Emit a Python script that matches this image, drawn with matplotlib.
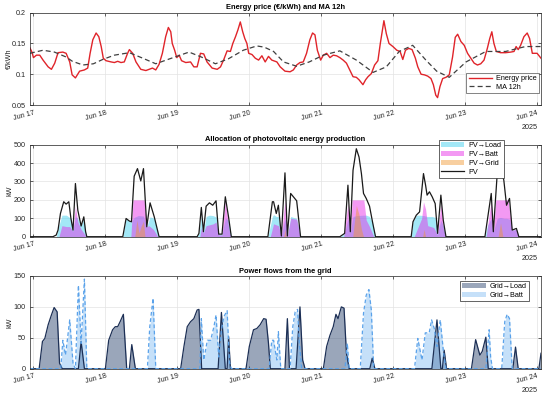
import numpy as np
import matplotlib
matplotlib.use("Agg")
import matplotlib.pyplot as plt
import matplotlib.dates as mdates
from matplotlib.patches import Patch
from matplotlib.lines import Line2D

plt.rcParams['font.family'] = ['Liberation Sans', 'DejaVu Sans']

BASE = np.datetime64('2025-06-17T00:00')
X_START_H, X_END_H = -1.15, 169.3

# ---------------- data (hours from Jun 17 00:00, value) ----------------
price_pts = [(-1.2,0.143),(-0.5,0.136),(0,0.127),(1,0.131),(2.1,0.131),(3.2,0.123),(4.9,0.112),(6,0.108),
    (7.1,0.118),(8.2,0.135),(9.8,0.136),(10.9,0.134),(12.1,0.120),(12.9,0.099),(14,0.094),(15.4,0.105),
    (17,0.107),(18.1,0.110),(18.9,0.134),(19.8,0.156),(20.9,0.167),(21.8,0.161),(22.6,0.145),(23.3,0.126),
    (24.2,0.122),(25.9,0.120),(27,0.119),(28.1,0.121),(29.2,0.119),(30.3,0.120),(31.4,0.134),(32,0.140),
    (33.1,0.134),(34.2,0.120),(35.8,0.108),(37.5,0.106),(38.6,0.108),(39.7,0.110),(40.8,0.107),(41.9,0.116),
    (43,0.134),(44.1,0.161),(45,0.176),(45.8,0.169),(46.3,0.150),(47.1,0.139),(47.8,0.127),(48.6,0.131),
    (49.4,0.122),(50.8,0.119),(52.4,0.120),(53.5,0.112),(54.6,0.112),(55.7,0.134),(56.8,0.133),(57.9,0.120),
    (59.6,0.110),(61.3,0.108),(62.4,0.112),(63.5,0.124),(64.6,0.138),(65.7,0.137),(66.5,0.150),(67.4,0.161),
    (68.2,0.172),(69,0.185),(69.8,0.169),(70.5,0.158),(71.2,0.150),(71.8,0.134),(72.9,0.132),(74,0.126),
    (75.1,0.123),(76.2,0.130),(77.3,0.120),(78.4,0.129),(79.5,0.123),(81.2,0.120),(82.3,0.112),(83.9,0.105),
    (85.6,0.104),(86.7,0.107),(87.8,0.115),(88.9,0.119),(90,0.120),(91.1,0.134),(92.2,0.156),(93.1,0.167),
    (93.9,0.164),(94.7,0.139),(95.8,0.123),(96.7,0.131),(97.8,0.134),(98.9,0.127),(100,0.131),(101.1,0.130),
    (102.2,0.127),(103.3,0.123),(104.4,0.118),(105.5,0.107),(106.6,0.096),(107.7,0.095),(108.6,0.091),
    (109.9,0.083),(110.8,0.091),(111.6,0.096),(112.7,0.101),(113.8,0.115),(114.9,0.122),(115.7,0.150),
    (116.4,0.172),(116.9,0.187),(117.7,0.166),(118.6,0.150),(119.9,0.145),(121.2,0.139),(122.3,0.137),
    (123.2,0.124),(124.1,0.139),(125.2,0.142),(126.3,0.140),(127.4,0.126),(128.2,0.112),(129.3,0.100),
    (130.4,0.099),(131.5,0.097),(132.6,0.093),(133.4,0.083),(134.2,0.066),(134.8,0.062),(135.6,0.080),
    (136.5,0.093),(137.6,0.095),(138.7,0.099),(139.8,0.128),(140.7,0.160),(141.5,0.165),(142.6,0.153),
    (143.7,0.147),(144.8,0.134),(145.9,0.126),(147,0.118),(148.1,0.115),(149.2,0.117),(150.3,0.123),
    (151.4,0.142),(152.2,0.158),(152.9,0.169),(153.6,0.150),(154.4,0.137),(155.8,0.135),(157.5,0.135),
    (159.2,0.136),(160.3,0.137),(161,0.145),(161.7,0.140),(162.5,0.147),(163.6,0.161),(164.7,0.167),
    (165.5,0.158),(166.4,0.134),(168,0.134),(169.3,0.126)]

ma_pts = [(-1.2,0.134),(3.2,0.139),(7,0.136),(10.9,0.128),(13,0.121),(16.5,0.115),(20,0.117),(23.1,0.124),
    (27,0.131),(32,0.135),(36,0.127),(40.8,0.117),(46,0.126),(51.9,0.136),(56,0.128),(60.7,0.117),(65,0.125),
    (70,0.139),(74.5,0.146),(77,0.144),(80.1,0.137),(83.4,0.120),(87.8,0.113),(92,0.120),(96.7,0.131),
    (102.2,0.138),(107.7,0.123),(113.3,0.103),(117.7,0.112),(122,0.137),(126.5,0.147),(130.9,0.123),
    (134.5,0.105),(138.7,0.095),(144.3,0.120),(150.9,0.137),(157.5,0.137),(164.1,0.145),(169.3,0.145)]

pv_pts = [(-1.2,0),(6.5,0),(7.6,9),(8.2,36),(9.0,126),(10.1,190),(10.9,177),(11.8,190),(12.5,99),(13.2,36),
    (14.0,289),(14.8,144),(15.9,58),(16.8,108),(17.4,27),(17.8,0),
    (29.8,0),(30.9,99),(32.0,85),(32.7,81),(33.6,329),(34.7,370),(35.8,303),(36.7,370),(37.8,54),(38.9,184),
    (40.3,108),(41.9,0),
    (54.6,0),(55.2,18),(56.0,159),(56.7,27),(57.6,166),(58.7,184),(59.8,171),(60.9,195),(61.8,14),(62.9,14),
    (64.0,217),(65.1,105),(66.0,0),
    (78.2,0),(79.7,190),(80.1,190),(81.0,126),(81.7,171),(82.7,4),(83.9,347),(84.7,4),(85.8,235),(86.7,217),
    (87.8,195),(89.1,0),
    (102.2,0),(103.8,18),(104.9,280),(105.7,27),(106.6,361),(107.7,478),(108.6,433),(109.4,343),(110.1,235),
    (111.0,208),(112.1,166),(113.2,72),(114.1,0),
    (126.0,0),(126.6,81),(127.7,117),(128.8,135),(130.1,343),(130.8,280),(131.3,226),(132.1,244),(133.0,217),
    (134.0,180),(134.8,18),(135.9,226),(136.7,90),(137.6,0),
    (150.6,0),(151.4,90),(152.7,235),(153.4,27),(154.7,343),(155.8,375),(156.9,307),(157.8,171),(158.8,208),
    (159.7,36),(161.1,45),(161.9,0),(169.3,0)]

pv_load_pts = [(7.6,0),(8.5,60),(9.5,117),(11,117),(12.5,99),(13.2,36),(14,110),(14.8,100),(15.9,58),(16.8,100),
    (17.4,27),(17.8,0),
    (29.8,0),(30.9,99),(32.0,85),(32.7,81),(33.6,105),(35,115),(36.7,112),(37.8,54),(38.9,108),(40.3,100),(41.9,0),
    (54.6,0),(55.2,18),(56.0,110),(56.7,27),(57.6,110),(58.7,117),(59.8,115),(60.9,108),(61.8,14),(62.9,14),
    (64.0,100),(65.1,90),(66.0,0),
    (78.2,0),(79.7,110),(80.1,120),(81.0,110),(81.7,110),(82.7,4),(83.9,100),(84.7,4),(85.8,110),(86.7,105),
    (87.8,100),(89.1,0),
    (102.2,0),(103.8,18),(104.9,100),(105.7,27),(106.6,110),(108,115),(110,117),(111,117),(112.1,110),
    (113.2,72),(114.1,0),
    (126,0),(126.6,81),(127.7,117),(128.8,117),(130.1,115),(131.3,110),(133,110),(134,105),(134.8,18),
    (135.9,90),(136.7,60),(137.6,0),
    (150.6,0),(151.4,60),(152.7,100),(153.4,27),(154.7,100),(155.8,105),(156.9,100),(157.8,100),(158.8,95),
    (159.7,36),(161.1,40),(161.9,0)]

pv_batt_pts = [(8.5,0),(9.5,60),(11,55),(12.1,55),(13.2,30),(14,165),(14.8,80),(15.9,40),(16.8,20),(17.6,0),
    (32.5,0),(33.2,200),(36.9,200),(37.8,54),(38.5,60),(40,40),(41.5,0),
    (55.5,0),(56.0,50),(56.7,20),(57.6,60),(60,70),(60.9,80),(61.8,10),(62.9,10),(64.0,200),(65.1,50),(65.8,0),
    (79,0),(80.1,70),(81.7,60),(82.7,4),(83.9,200),(84.7,4),(85.8,100),(87.8,95),(89,0),
    (103.5,0),(104.9,180),(105.7,20),(106.3,200),(110.2,200),(111,90),(112.1,55),(113.5,0),
    (127,0),(128,40),(129.5,100),(130.1,190),(130.8,150),(131.5,60),(133.5,50),(134.8,10),(135.9,180),
    (136.7,50),(137.4,0),
    (151,0),(152.7,200),(153.4,20),(154.2,200),(158.3,200),(159.7,36),(161.1,40),(161.9,0)]

pv_grid_pts = [(33.8,0),(34.5,90),(35.2,20),(36,60),(36.7,85),(37.2,0),
    (83.5,0),(83.9,40),(84.3,0),
    (106.5,0),(107.7,170),(108.6,120),(109.4,40),(110.1,0),
    (129.8,0),(130.3,40),(130.8,0),
    (155,0),(155.8,75),(156.6,0)]

grid_load_pts = [(-1.2,0),(1.9,0),(3.0,44),(3.8,49),(4.9,71),(6.0,87),(6.9,99),(7.9,92),(8.7,9),(9.6,0),
    (15.0,0),(15.9,44),(17.0,0),
    (24.0,0),(25.1,46),(26.4,63),(27.3,68),(28.1,68),(28.9,76),(30.0,88),(31.1,0),(32.0,0),(32.8,39),(34.0,0),
    (49.1,0),(50.2,36),(51.3,68),(52.4,76),(53.5,81),(54.6,95),(55.2,96),(56.1,0),(61.6,0),(62.7,91),(64.0,0),
    (64.6,0),(65.1,52),(65.7,0),
    (70.9,0),(72.0,36),(73.4,63),(74.5,65),(75.6,71),(76.8,81),(77.6,80),(78.4,41),(79.0,0),
    (83.9,0),(84.7,81),(85.4,0),(87.6,0),(88.9,100),(89.8,14),(90.6,0),
    (96.7,0),(97.8,36),(98.9,54),(100.0,68),(100.9,88),(101.6,81),(102.7,100),(103.6,98),(104.4,25),(105.3,0),
    (112.2,0),(113.0,17),(113.9,0),
    (132.9,0),(134.6,79),(135.9,0),(136.4,0),(137.0,30),(137.8,0),
    (146.1,0),(147.5,47),(148.9,22),(149.7,28),(150.9,51),(151.7,0),
    (159.9,0),(160.8,35),(161.7,0),
    (168.6,0),(169.3,25)]

grid_batt_pts = [(-1.2,0),(9.1,0),(9.8,46),(10.7,22),(12.1,79),(13.2,9),(14.0,0),(15.0,135),(15.9,41),(17.0,145),
    (17.8,0),
    (38.0,0),(38.8,68),(39.9,114),(40.8,0),
    (55.5,0),(56.0,81),(56.8,14),(58.0,46),(59.1,46),(60.2,68),(60.9,87),(61.8,19),(62.7,62),(63.5,84),
    (64.6,94),(65.4,10),(66.0,0),
    (78.6,0),(79.5,46),(80.1,46),(81.2,14),(81.7,60),(82.5,0),
    (85.6,0),(86.5,68),(87.3,92),(88.1,96),(88.7,41),(89.5,0),
    (103.9,0),(104.7,41),(105.3,0),
    (109.0,0),(110.1,90),(111.0,119),(111.9,128),(112.7,95),(113.5,0),
    (127.1,0),(128.2,49),(129.6,14),(130.7,58),(132.0,58),(132.8,79),(133.7,65),(134.6,36),(135.7,79),
    (136.7,30),(137.6,0),
    (150.9,0),(152.0,63),(152.5,19),(153.1,0),(156.2,0),(157.2,76),(158.0,88),(158.8,81),(159.7,0),
    (169.3,0)]

day_ticks = ['Jun 17', 'Jun 18', 'Jun 19', 'Jun 20', 'Jun 21', 'Jun 22', 'Jun 23', 'Jun 24']


def series(pts):
    h = np.array([p[0] for p in pts], dtype=float)
    v = np.array([p[1] for p in pts], dtype=float)
    t = BASE + (h * 3600).astype('timedelta64[s]')
    return mdates.date2num(t), v


TXT = '#262626'
FS = 5.2
TFS = 5.4

fig = plt.figure(figsize=(5.5, 3.97), dpi=100)
W = 550.0
H = 397.0
L, R = 30.0, 541.0


def make_ax(top_px, bot_px):
    return fig.add_axes([L / W, 1 - bot_px / H, (R - L) / W, (bot_px - top_px) / H])


ax1 = make_ax(12.7, 105.0)
ax2 = make_ax(144.7, 236.7)
ax3 = make_ax(276.0, 368.7)

xl = mdates.date2num([BASE + np.timedelta64(int(X_START_H * 60), 'm'),
                      BASE + np.timedelta64(int(X_END_H * 60), 'm')])
tick_pos = mdates.date2num([BASE + np.timedelta64(24 * i, 'h') for i in range(len(day_ticks))])

for ax in (ax1, ax2, ax3):
    ax.set_xlim(xl)
    ax.set_xticks(tick_pos)
    ax.set_xticklabels(day_ticks, rotation=15, ha='right', va='top', rotation_mode='anchor')
    ax.tick_params(direction='in', length=2.5, width=0.5, top=True, right=True,
                   labelsize=FS, colors=TXT, pad=3)
    ax.grid(True, color='#e3e3e3', linewidth=0.5)
    ax.set_axisbelow(True)
    for s in ax.spines.values():
        s.set_color(TXT)
        s.set_linewidth(0.5)
    ax.text(0.994, -0.24, '2025', transform=ax.transAxes, ha='right', va='center',
            fontsize=FS, color=TXT)

# ---- panel 1
t, v = series(price_pts)
ax1.plot(t, v, color='#e0242a', linewidth=1.0, label='Energy price')
t, v = series(ma_pts)
ax1.plot(t, v, color='#404040', linewidth=0.9, linestyle=(0, (4, 2.5)), label='MA 12h')
ax1.set_ylim(0.05, 0.2)
ax1.set_yticks([0.05, 0.1, 0.15, 0.2])
ax1.set_yticklabels(['0.05', '0.1', '0.15', '0.2'])
ax1.set_ylabel('€/kWh', fontsize=FS, color=TXT)
ax1.set_title('Energy price (€/kWh) and MA 12h', fontsize=TFS, fontweight='bold', color='black', pad=3)
leg = ax1.legend(loc='lower right', bbox_to_anchor=(0.996, 0.13), borderaxespad=0, fontsize=FS,
                 frameon=True, fancybox=False, edgecolor=TXT, handlelength=3.2, labelspacing=0.2,
                 borderpad=0.3, handletextpad=0.6)
leg.get_frame().set_linewidth(0.5)

# ---- panel 2
t, v = series(pv_load_pts)
ax2.fill_between(t, 0, v, color='#33ccee', alpha=0.45, linewidth=0)
t, v = series(pv_batt_pts)
ax2.fill_between(t, 0, v, color='#e61ee6', alpha=0.45, linewidth=0)
t, v = series(pv_grid_pts)
ax2.fill_between(t, 0, v, color='#f0962d', alpha=0.45, linewidth=0)
t, v = series(pv_pts)
ax2.plot(t, v, color='#1a1a1a', linewidth=0.9)
ax2.set_ylim(0, 500)
ax2.set_yticks([0, 100, 200, 300, 400, 500])
ax2.set_ylabel('kW', fontsize=FS, color=TXT)
ax2.set_title('Allocation of photovoltaic energy production', fontsize=TFS, fontweight='bold',
              color='black', pad=3)
h2 = [Patch(facecolor='#33ccee', alpha=0.45, edgecolor='none', label='PV→Load'),
      Patch(facecolor='#e61ee6', alpha=0.45, edgecolor='none', label='PV→Batt'),
      Patch(facecolor='#f0962d', alpha=0.45, edgecolor='none', label='PV→Grid'),
      Line2D([], [], color='#1a1a1a', linewidth=0.9, label='PV')]
leg = ax2.legend(handles=h2, loc='upper left', bbox_to_anchor=(0.80, 1.051), borderaxespad=0,
                 fontsize=FS, frameon=True, fancybox=False, edgecolor=TXT, handlelength=3.2,
                 labelspacing=0.25, borderpad=0.3, handletextpad=0.6, framealpha=1)
leg.get_frame().set_linewidth(0.5)
leg.set_zorder(10)

# ---- panel 3
t, v = series(grid_load_pts)
ax3.fill_between(t, 0, v, color='#1f3a66', alpha=0.45, linewidth=0)
ax3.plot(t, v, color='#1c2f55', linewidth=0.9)
t, v = series(grid_batt_pts)
ax3.fill_between(t, 0, v, color='#7fbcf2', alpha=0.45, linewidth=0)
ax3.plot(t, v, color='#5aa2ea', linewidth=0.9, linestyle=(0, (3, 2)))
ax3.set_ylim(0, 150)
ax3.set_yticks([0, 50, 100, 150])
ax3.set_ylabel('kW', fontsize=FS, color=TXT)
ax3.set_title('Power flows from the grid', fontsize=TFS, fontweight='bold', color='black', pad=2)
h3 = [Patch(facecolor='#1f3a66', alpha=0.45, edgecolor='none', label='Grid→Load'),
      Patch(facecolor='#7fbcf2', alpha=0.45, edgecolor='none', label='Grid→Batt')]
leg = ax3.legend(handles=h3, loc='upper left', bbox_to_anchor=(0.842, 0.946), borderaxespad=0,
                 fontsize=FS, frameon=True, fancybox=False, edgecolor=TXT, handlelength=3.2,
                 labelspacing=0.25, borderpad=0.3, handletextpad=0.6, framealpha=1)
leg.get_frame().set_linewidth(0.5)

for ax in (ax1, ax2, ax3):
    ax.yaxis.set_label_coords(-0.033, 0.5)

fig.savefig('out.png', dpi=100)
